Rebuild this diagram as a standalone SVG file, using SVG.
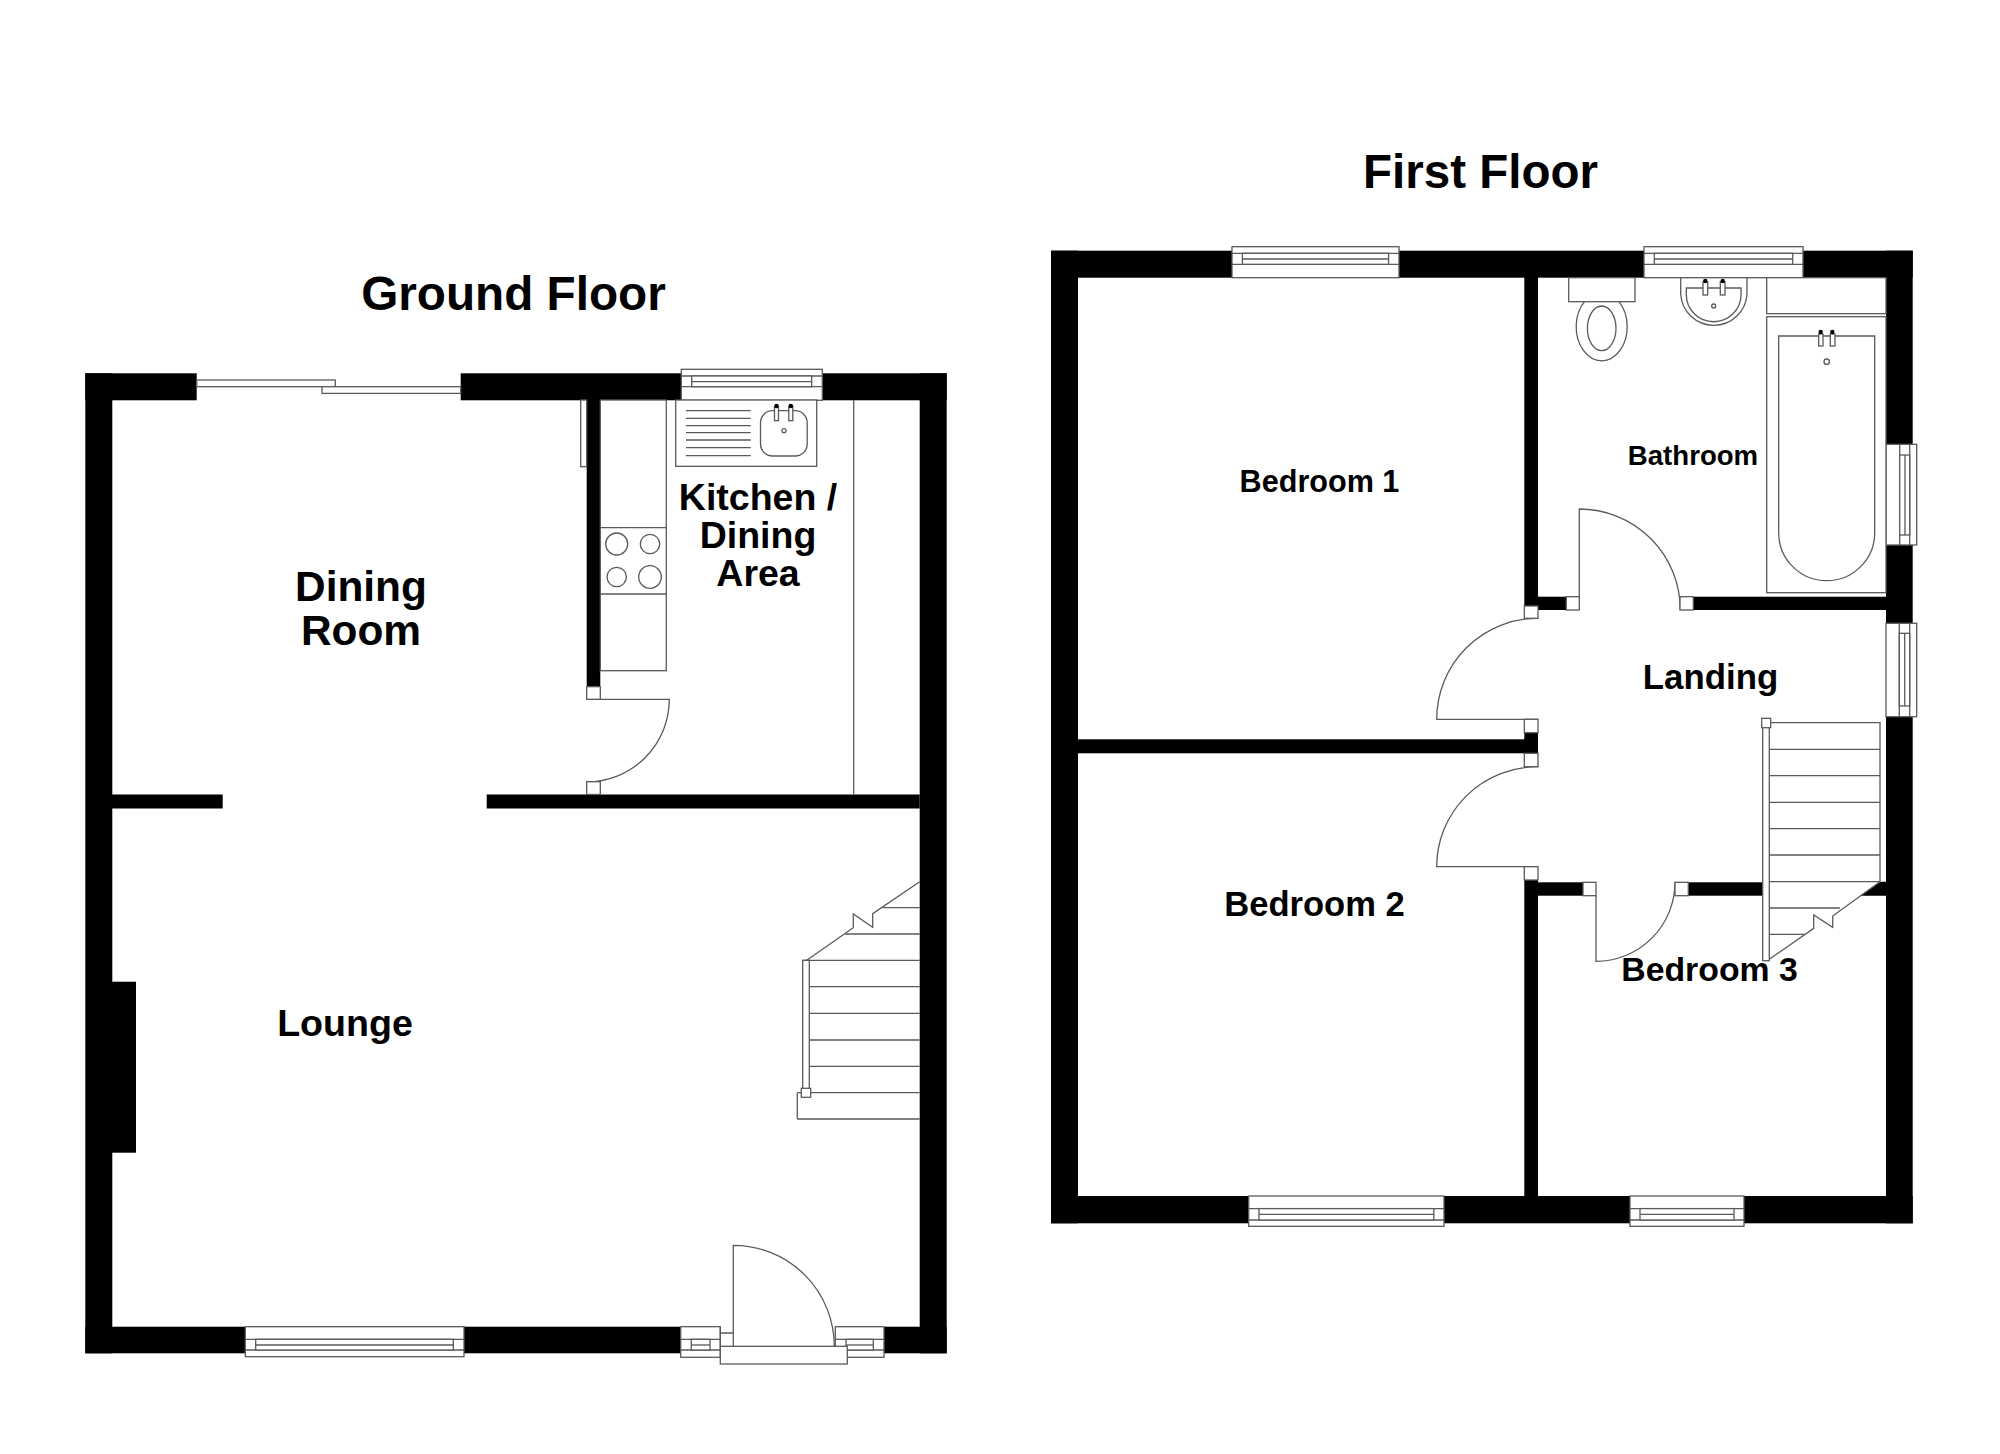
<svg xmlns="http://www.w3.org/2000/svg" width="2000" height="1454" viewBox="0 0 2000 1454">
<style>
.w{fill:#000}
.l{fill:#fff;stroke:#5a5a5a;stroke-width:1.3}
.n{fill:none;stroke:#5a5a5a;stroke-width:1.3}
.d{fill:#000}
text{font-family:"Liberation Sans",Arial,sans-serif;font-weight:700;fill:#000;text-anchor:middle}
</style>
<rect width="2000" height="1454" fill="#fff"/>

<g id="ground-floor">
<g id="ground-walls">
<rect class="w" x="85.3" y="373.3" width="27" height="980"/>
<rect class="w" x="919.7" y="373.3" width="27" height="980"/>
<rect class="w" x="85.3" y="373.3" width="111.4" height="27"/>
<rect class="w" x="460.7" y="373.3" width="220.6" height="27"/>
<rect class="w" x="822.3" y="373.3" width="124.4" height="27"/>
<rect class="w" x="85.3" y="1326.7" width="160" height="26.6"/>
<rect class="w" x="464" y="1326.7" width="216.7" height="26.6"/>
<rect class="w" x="884" y="1326.7" width="62.7" height="26.6"/>
<rect class="w" x="112" y="794.5" width="110.7" height="14"/>
<rect class="w" x="486.7" y="794.5" width="433" height="14"/>
<rect class="w" x="586.7" y="400" width="13.6" height="286.7"/>
<rect class="w" x="112" y="981.7" width="24" height="171"/>
</g>
<g id="patio-door">
<rect class="l" x="196.7" y="380" width="138.6" height="6.7"/>
<rect class="l" x="322" y="386.7" width="138.7" height="6.7"/>
</g>
<g id="kitchen-window">
<rect class="l" x="681.3" y="369.3" width="141" height="31"/>
<path class="n" d="M681.3 376H822.3M681.3 386.7H822.3"/>
<rect class="l" x="691.7" y="376" width="120" height="10.7"/>
<path class="n" d="M691.7 381.7H811.7"/>
</g>
<g id="kitchen-units">
<rect class="l" x="600.3" y="400" width="66" height="270.7"/>
<path class="n" d="M600.3 527.7H666.3M600.3 594H666.3"/>
<circle class="n" cx="616.7" cy="544" r="11"/>
<circle class="n" cx="650" cy="544" r="9.7"/>
<circle class="n" cx="616.7" cy="577" r="9.7"/>
<circle class="n" cx="650" cy="577" r="11.3"/>
<rect class="l" x="580.7" y="400" width="6" height="66.7"/>
<path class="n" d="M853.7 400V794.5"/>
</g>
<g id="kitchen-sink">
<rect class="l" x="675.7" y="400" width="141" height="66.3"/>
<path class="n" d="M686 410.7H750.7M686 418.3H750.7M686 425.7H750.7M686 432.7H750.7M686 440H750.7M686 447.7H750.7M686 455.7H750.7"/>
<rect class="n" x="760.5" y="410.7" width="46.7" height="45.3" rx="12"/>
<rect class="l" x="774.5" y="406.7" width="4" height="14"/>
<rect class="l" x="788.8" y="406.7" width="4" height="14"/>
<circle class="d" cx="776.5" cy="406" r="2.3"/>
<circle class="d" cx="790.8" cy="406" r="2.3"/>
<circle class="n" cx="784" cy="430.7" r="2"/>
</g>
<g id="kitchen-door">
<path class="n" d="M586.7 699.3H669.3A82.6 82.6 0 0 1 586.7 781.9"/>
<rect class="l" x="586.7" y="686.7" width="13.6" height="12.6"/>
<rect class="l" x="586.7" y="781.7" width="13.6" height="12.8"/>
</g>
<g id="ground-stairs">
<path class="n" d="M882.7 907.7H919.7M845 934H919.7M802.7 960.3H919.7M809.3 986.7H919.7M809.3 1013.3H919.7M809.3 1040H919.7M809.3 1066.3H919.7M797.3 1092.7H919.7M797.3 1119H919.7M797.3 1092.7V1119"/>
<path class="n" d="M919.7 881.7L872.7 913.7V927.3L853.3 914V927.7L806.7 960.3"/>
<rect class="l" x="802.7" y="960.3" width="6.6" height="130"/>
<rect class="l" x="801.3" y="1088.3" width="9.4" height="9"/>
</g>
<g id="lounge-window">
<rect class="l" x="245.3" y="1326.7" width="218.7" height="30"/>
<path class="n" d="M245.3 1339.3H464M245.3 1350H464"/>
<rect class="l" x="255.7" y="1339.3" width="197.6" height="10.7"/>
<path class="n" d="M255.7 1345H453.3"/>
</g>
<g id="front-door">
<rect class="l" x="680.7" y="1326.7" width="39.6" height="30.6"/>
<path class="n" d="M680.7 1339.3H720.3M680.7 1350H720.3"/>
<rect class="l" x="691.3" y="1339.3" width="18.7" height="10.7"/>
<path class="n" d="M691.3 1345H710"/>
<rect class="l" x="835.3" y="1326.7" width="48.7" height="30.6"/>
<path class="n" d="M835.3 1339.3H884M835.3 1350H884"/>
<rect class="l" x="846" y="1339.3" width="27.3" height="10.7"/>
<path class="n" d="M846 1345H873.3"/>
<path class="n" d="M720.3 1333H733.3M720.3 1326.7V1346.3"/>
<rect class="l" x="720.3" y="1346.3" width="127" height="17.7"/>
<path class="n" d="M733.3 1346.3V1245.3A101 101 0 0 1 834.3 1346.3"/>
</g>
<text id="title-ground" x="513.5" y="310" font-size="47.7">Ground Floor</text>
<text id="label-dining-room" x="361" font-size="42.4"><tspan x="361" y="601">Dining</tspan><tspan x="361" y="644.5">Room</tspan></text>
<text id="label-kitchen" font-size="37.5"><tspan x="758" y="509.5">Kitchen /</tspan><tspan x="758" y="547.5">Dining</tspan><tspan x="758" y="585.5">Area</tspan></text>
<text id="label-lounge" x="345" y="1036" font-size="37.6">Lounge</text>
</g>

<g id="first-floor">
<g id="first-walls">
<rect class="w" x="1051" y="250.7" width="27" height="972.6"/>
<rect class="w" x="1886" y="250.7" width="26.7" height="193.6"/>
<rect class="w" x="1886" y="545" width="26.7" height="78.3"/>
<rect class="w" x="1886" y="716.7" width="26.7" height="506.6"/>
<rect class="w" x="1051" y="250.7" width="181" height="27"/>
<rect class="w" x="1399" y="250.7" width="245" height="27"/>
<rect class="w" x="1803" y="250.7" width="109.7" height="27"/>
<rect class="w" x="1051" y="1196" width="197.7" height="27.3"/>
<rect class="w" x="1444" y="1196" width="186" height="27.3"/>
<rect class="w" x="1744" y="1196" width="168.7" height="27.3"/>
<rect class="w" x="1524.3" y="277" width="13.7" height="329"/>
<rect class="w" x="1538" y="596.7" width="28.3" height="13.3"/>
<rect class="w" x="1693.3" y="596.7" width="192.7" height="13.3"/>
<rect class="w" x="1078" y="739.3" width="460" height="14"/>
<rect class="w" x="1524.3" y="732.7" width="13.7" height="20.6"/>
<rect class="w" x="1524.3" y="880" width="13.7" height="316"/>
<rect class="w" x="1538" y="882.3" width="45" height="13.4"/>
<rect class="w" x="1688.3" y="882.3" width="74.4" height="13.4"/>
<path class="w" d="M1860 895.7L1880 881.7H1886V895.7Z"/>
</g>
<g id="bedroom1-window">
<rect class="l" x="1232" y="246.7" width="167" height="31"/>
<path class="n" d="M1232 253.3H1399M1232 264.3H1399"/>
<rect class="l" x="1242.4" y="253.3" width="146.2" height="11"/>
<path class="n" d="M1242.4 259H1388.6"/>
</g>
<g id="bathroom-window">
<rect class="l" x="1644" y="246.7" width="159" height="31"/>
<path class="n" d="M1644 253.3H1803M1644 264.3H1803"/>
<rect class="l" x="1654.3" y="253.3" width="138.4" height="11"/>
<path class="n" d="M1654.3 259H1792.7"/>
</g>
<g id="bathroom-side-window">
<rect class="l" x="1886" y="444.3" width="30.7" height="100.7"/>
<path class="n" d="M1899.7 444.3V545M1909.7 444.3V545"/>
<rect class="l" x="1899.7" y="455" width="10" height="80"/>
<path class="n" d="M1905 455V535"/>
</g>
<g id="landing-window">
<rect class="l" x="1886" y="623.3" width="30.7" height="93.4"/>
<path class="n" d="M1899.3 623.3V716.7M1909.7 623.3V716.7"/>
<rect class="l" x="1899.3" y="633.3" width="10.4" height="72.7"/>
<path class="n" d="M1904.7 633.3V706"/>
</g>
<g id="bedroom2-window">
<rect class="l" x="1248.7" y="1196" width="195.3" height="30.3"/>
<path class="n" d="M1248.7 1208.6H1444M1248.7 1220H1444"/>
<rect class="l" x="1259" y="1208.6" width="174.8" height="11.4"/>
<path class="n" d="M1259 1214.3H1433.8"/>
</g>
<g id="bedroom3-window">
<rect class="l" x="1630" y="1196" width="114" height="30.3"/>
<path class="n" d="M1630 1208.6H1744M1630 1220H1744"/>
<rect class="l" x="1640" y="1208.6" width="94" height="11.4"/>
<path class="n" d="M1640 1214.3H1734"/>
</g>
<g id="toilet">
<rect class="l" x="1568.7" y="277.7" width="66.3" height="24"/>
<path class="n" d="M1584.5 301.7A25.5 34 0 1 0 1618.9 301.7"/>
<ellipse class="n" cx="1601.7" cy="328.3" rx="14.3" ry="22.3"/>
</g>
<g id="basin">
<path class="n" d="M1680.7 277.7V294A33.2 33.2 0 0 0 1747 294V277.7"/>
<path class="n" d="M1686.3 288H1741V294.7A27.3 27 0 0 1 1686.3 294.7Z"/>
<rect class="l" x="1703" y="281.7" width="4.7" height="13.3"/>
<rect class="l" x="1720.3" y="281.7" width="4.7" height="13.3"/>
<circle class="d" cx="1705.3" cy="281" r="2.2"/>
<circle class="d" cx="1722.7" cy="281" r="2.2"/>
<circle class="n" cx="1713.7" cy="306" r="2"/>
</g>
<g id="bath">
<rect class="l" x="1766.7" y="277.7" width="119.3" height="36"/>
<rect class="l" x="1766.7" y="316.7" width="119.3" height="276"/>
<path class="n" d="M1778.7 336H1874.7V532.7A48 48 0 0 1 1778.7 532.7Z"/>
<rect class="l" x="1818.7" y="334" width="4.3" height="12"/>
<rect class="l" x="1830.3" y="334" width="4.7" height="12"/>
<circle class="d" cx="1820.7" cy="332" r="2.2"/>
<circle class="d" cx="1832.3" cy="332" r="2.2"/>
<circle class="n" cx="1826.7" cy="361.7" r="2.7"/>
</g>
<g id="bathroom-door">
<path class="n" d="M1579.3 610V509A101 101 0 0 1 1680.3 610"/>
<rect class="l" x="1566.3" y="596.7" width="13" height="13.3"/>
<rect class="l" x="1680" y="596.7" width="13.3" height="13.3"/>
</g>
<g id="bedroom1-door">
<path class="n" d="M1538 618.3A101 101 0 0 0 1436.7 719.3H1538"/>
<rect class="l" x="1524.3" y="606" width="13.7" height="12.3"/>
<rect class="l" x="1524.3" y="719.3" width="13.7" height="13.4"/>
</g>
<g id="bedroom2-door">
<path class="n" d="M1538 766.7A101 100 0 0 0 1436.7 866.7H1538"/>
<rect class="l" x="1524.3" y="753.3" width="13.7" height="13.4"/>
<rect class="l" x="1524.3" y="866.7" width="13.7" height="13.3"/>
</g>
<g id="bedroom3-door">
<path class="n" d="M1596 895.7V961.3A79 79 0 0 0 1675 882.3"/>
<rect class="l" x="1583" y="882.3" width="13" height="13.4"/>
<rect class="l" x="1675" y="882.3" width="13.3" height="13.4"/>
</g>
<g id="first-stairs">
<path class="n" d="M1769.3 722.7H1880V881.7M1769.3 749.3H1880M1769.3 775.7H1880M1769.3 802.3H1880M1769.3 828.7H1880M1769.3 855H1880M1769.3 881.7H1880M1769.3 908H1840M1769.3 934.3H1805"/>
<path class="n" d="M1880 881.7L1832.7 916V927.3L1813.7 915V928.3L1769.3 959.3"/>
<rect class="l" x="1762.7" y="726" width="6.6" height="234.7"/>
<rect class="l" x="1761.7" y="718.3" width="9" height="9.4"/>
</g>
<text id="title-first" x="1480.5" y="187.5" font-size="47.5">First Floor</text>
<text id="label-bedroom1" x="1319.5" y="491.5" font-size="30.6">Bedroom 1</text>
<text id="label-bedroom2" x="1314.5" y="916" font-size="34.6">Bedroom 2</text>
<text id="label-bedroom3" x="1709.5" y="980.7" font-size="33.8">Bedroom 3</text>
<text id="label-bathroom" x="1693" y="464.5" font-size="27.6">Bathroom</text>
<text id="label-landing" x="1710.5" y="688.5" font-size="34.8">Landing</text>
</g>
</svg>
